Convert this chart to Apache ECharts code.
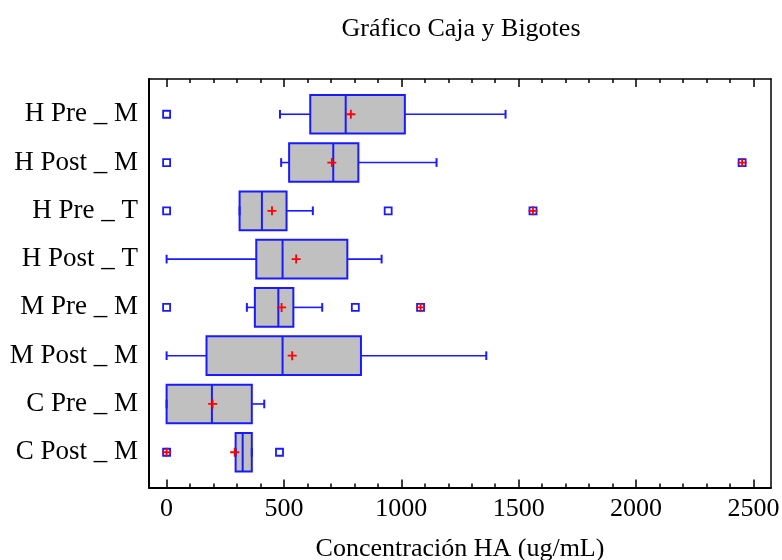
<!DOCTYPE html>
<html>
<head>
<meta charset="utf-8">
<script src="https://cdn.jsdelivr.net/npm/echarts@6/dist/echarts.min.js"></script>
<style>
html,body{margin:0;padding:0;background:#fff;}
#chart{width:782px;height:560px;}
</style>
</head>
<body>
<div id="chart"></div>
<script>
// ---- data ----
const categories = ['H Pre _ M', 'H Post _ M', 'H Pre _ T', 'H Post _ T', 'M Pre _ M', 'M Post _ M', 'C Pre _ M', 'C Post _ M'];
const whiskerLow  = [483, 488, 311, 0,   342, 0,    0,   294];
const q1          = [612, 522, 311, 382, 376, 170,  0,   294];
const median      = [763, 710, 406, 494, 476, 494,  193, 324];
const q3          = [1015, 817, 511, 770, 540, 828, 363, 363];
const whiskerHigh = [1444, 1150, 623, 916, 663, 1362, 416, 363];
const means       = [785, 704, 449, 552, 490, 535, 196, 290];
// [value, category index]
const outliers    = [[0, 0], [0, 1], [0, 2], [944, 2], [0, 4], [804, 4], [481, 7]];
const farOutliers = [[2452, 1], [1561, 2], [1082, 4], [0, 7]];
const tickMin = 0, tickMax = 2500, tickStep = 500, minorSplit = 5;
const titleText = 'Gráfico Caja y Bigotes';
const xTitle = 'Concentración HA (ug/mL)';

// ---- style ----
const FONT = "'Liberation Serif', 'Times New Roman', serif";
const BLUE = '#1a1aff';
const RED = '#ff0000';
const GRAY = '#c0c0c0';
const XMIN = -75, XMAX = 2575;
const YMIN = -0.73, YMAX = 7.73;
const PLOT_L = 149, PLOT_R = 771, PLOT_T = 79, PLOT_B = 487.5, W = 782, H = 560;
const pxPerUnit = (PLOT_R - PLOT_L) / (XMAX - XMIN);
const tickL = PLOT_L + (tickMin - XMIN) * pxPerUnit;
const tickR = PLOT_L + (tickMax - XMIN) * pxPerUnit;

const chart = echarts.init(document.getElementById('chart'), null, {renderer: 'canvas'});

function tickAxis(position, showLabel) {
  return {
    type: 'value', gridIndex: 1, position: position, min: tickMin, max: tickMax, interval: tickStep,
    axisLine: {show: false, onZero: false},
    axisTick: {show: true, inside: true, length: 8, lineStyle: {color: '#000', width: 1.5}},
    minorTick: {show: true, splitNumber: minorSplit, length: 4, lineStyle: {color: '#000', width: 1.5}},
    axisLabel: {show: showLabel, color: '#000', fontFamily: FONT, fontSize: 26, margin: 9,
      formatter: v => String(v)},
    splitLine: {show: false}, minorSplitLine: {show: false}
  };
}

const option = {
  animation: false,
  backgroundColor: '#fff',
  graphic: [{
    type: 'text', x: 461, y: 29,
    style: {text: titleText, font: '26px ' + FONT, fill: '#000', textAlign: 'center', textVerticalAlign: 'middle'}
  }],
  grid: [
    {left: PLOT_L, right: W - PLOT_R, top: PLOT_T, bottom: H - PLOT_B, containLabel: false, outerBoundsMode: 'none'},
    {left: tickL, right: W - tickR, top: PLOT_T, bottom: H - PLOT_B, containLabel: false, outerBoundsMode: 'none'}
  ],
  xAxis: [
    {
      type: 'value', gridIndex: 0, position: 'bottom', min: XMIN, max: XMAX,
      axisLine: {show: true, onZero: false, lineStyle: {color: '#000', width: 2}},
      axisTick: {show: false}, axisLabel: {show: false}, splitLine: {show: false},
      name: xTitle, nameLocation: 'middle', nameGap: 49,
      nameTextStyle: {color: '#000', fontFamily: FONT, fontSize: 26}
    },
    {
      type: 'value', gridIndex: 0, position: 'top', min: XMIN, max: XMAX,
      axisLine: {show: true, onZero: false, lineStyle: {color: '#000', width: 1.5}},
      axisTick: {show: false}, axisLabel: {show: false}, splitLine: {show: false}
    },
    tickAxis('bottom', true),
    tickAxis('top', false)
  ],
  yAxis: [{
    type: 'value', gridIndex: 0, inverse: true, min: YMIN, max: YMAX, position: 'left',
    axisLine: {show: true, onZero: false, lineStyle: {color: '#000', width: 2}},
    axisTick: {show: false},
    axisLabel: {
      customValues: categories.map((c, i) => i),
      formatter: v => categories[Math.round(v)],
      color: '#000', fontFamily: FONT, fontSize: 27, margin: 11
    },
    splitLine: {show: false}
  }, {
    type: 'value', gridIndex: 0, inverse: true, min: YMIN, max: YMAX, position: 'right',
    axisLine: {show: true, onZero: false, lineStyle: {color: '#000', width: 1.5}},
    axisTick: {show: false}, axisLabel: {show: false}, splitLine: {show: false}
  }, {
    type: 'value', gridIndex: 1, min: 0, max: 1, show: false
  }],
  series: [
    {
      type: 'custom',
      xAxisIndex: 0, yAxisIndex: 0,
      encode: {x: [1, 2, 3, 4, 5], y: 0},
      data: categories.map((c, i) => [i, whiskerLow[i], q1[i], median[i], q3[i], whiskerHigh[i]]),
      renderItem: function (params, api) {
        const i = api.value(0);
        const pL = api.coord([api.value(1), i]);
        const p1 = api.coord([api.value(2), i]);
        const pM = api.coord([api.value(3), i]);
        const p3 = api.coord([api.value(4), i]);
        const pH = api.coord([api.value(5), i]);
        const bh = api.size([0, 0.8])[1];
        const ch = api.size([0, 0.18])[1];
        const y = pM[1];
        const ls = {stroke: BLUE, lineWidth: 1.6};
        const lsB = {stroke: BLUE, lineWidth: 2};
        return {
          type: 'group',
          children: [
            {type: 'line', shape: {x1: pL[0], y1: y, x2: p1[0], y2: y}, style: ls},
            {type: 'line', shape: {x1: p3[0], y1: y, x2: pH[0], y2: y}, style: ls},
            {type: 'rect', shape: {x: p1[0], y: y - bh / 2, width: p3[0] - p1[0], height: bh},
              style: {fill: GRAY, stroke: BLUE, lineWidth: 2}},
            {type: 'line', shape: {x1: pM[0], y1: y - bh / 2, x2: pM[0], y2: y + bh / 2}, style: lsB},
            {type: 'line', shape: {x1: pL[0], y1: y - ch / 2, x2: pL[0], y2: y + ch / 2}, style: lsB},
            {type: 'line', shape: {x1: pH[0], y1: y - ch / 2, x2: pH[0], y2: y + ch / 2}, style: lsB}
          ]
        };
      },
      z: 2
    },
    {
      type: 'scatter', xAxisIndex: 0, yAxisIndex: 0,
      data: outliers.concat(farOutliers),
      symbol: 'rect', symbolSize: 7,
      itemStyle: {color: '#fff', borderColor: BLUE, borderWidth: 1.8, opacity: 1},
      z: 3
    },
    {
      type: 'scatter', xAxisIndex: 0, yAxisIndex: 0,
      data: farOutliers,
      symbol: 'path://M4,0H6V4H10V6H6V10H4V6H0V4H4Z', symbolSize: 9,
      itemStyle: {color: RED, opacity: 1},
      z: 4
    },
    {
      type: 'scatter', xAxisIndex: 0, yAxisIndex: 0,
      data: means.map((m, i) => [m, i]),
      symbol: 'path://M4,0H6V4H10V6H6V10H4V6H0V4H4Z', symbolSize: 9,
      itemStyle: {color: RED, opacity: 1},
      z: 4
    }
  ]
};
chart.setOption(option);
</script>
</body>
</html>
